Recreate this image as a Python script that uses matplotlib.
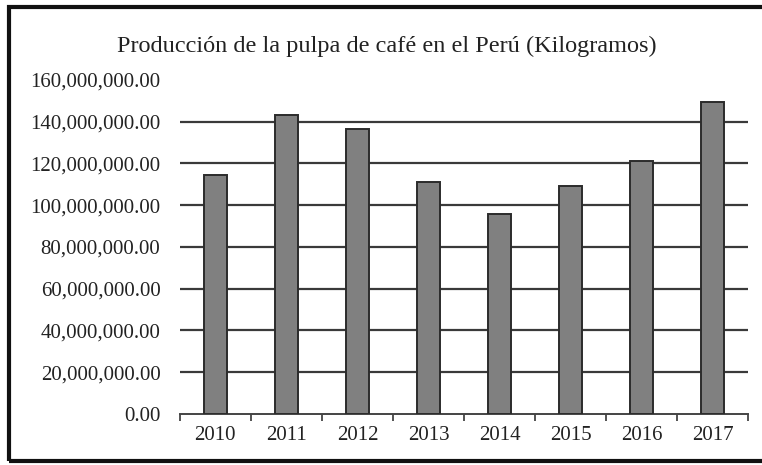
import matplotlib.pyplot as plt
from matplotlib.patches import Rectangle
from matplotlib.ticker import FuncFormatter, FixedLocator

years = ["2010", "2011", "2012", "2013", "2014", "2015", "2016", "2017"]
pulpa_kg = [114.3e6, 143.2e6, 136.5e6, 110.9e6, 95.7e6, 109.1e6, 121.0e6, 149.3e6]
y_ticks = [0, 20e6, 40e6, 60e6, 80e6, 100e6, 120e6, 140e6, 160e6]

plt.rcParams['font.family'] = ['Liberation Serif', 'DejaVu Serif']

fig = plt.figure(figsize=(7.62, 4.65), dpi=100)
ax = fig.add_axes([0.236, 0.110, 0.746, 0.718])

x = list(range(len(years)))
ax.bar(x, pulpa_kg, width=0.33, color="#808080", edgecolor="#2b2b2b",
       linewidth=1.4, zorder=3)

ax.set_xlim(-0.5, len(years) - 0.5)
ax.set_ylim(0, 160e6)
ax.set_yticks(y_ticks)
ax.yaxis.set_major_formatter(FuncFormatter(lambda v, p: f"{v:,.2f}"))
ax.tick_params(axis="y", length=0, labelsize=15, pad=14, colors="#222222")

# category labels centred on bars, ticks on the boundaries
ax.set_xticks(x)
ax.set_xticklabels(years)
ax.xaxis.set_minor_locator(FixedLocator([i - 0.5 for i in range(len(years) + 1)]))
ax.tick_params(axis="x", which="major", length=0, labelsize=15, pad=9, colors="#222222")
ax.tick_params(axis="x", which="minor", length=5, width=1.3, color="#444444", direction="out")

for s in ["top", "right", "left"]:
    ax.spines[s].set_visible(False)
ax.spines["bottom"].set_color("#444444")
ax.spines["bottom"].set_linewidth(1.4)

for v in y_ticks[1:-1]:
    ax.axhline(v, color="#3a3a3a", linewidth=1.6, zorder=1)

fig.text(0.508, 0.900, "Producción de la pulpa de café en el Perú (Kilogramos)",
         ha="center", va="center", fontsize=17.5, color="#222222")

# outer frame around the chart
fig.patches.append(Rectangle((0.012, 0.008), 1.0, 0.978, transform=fig.transFigure,
                             fill=False, edgecolor="#111111", linewidth=3))

fig.savefig("out.png", dpi=100)
